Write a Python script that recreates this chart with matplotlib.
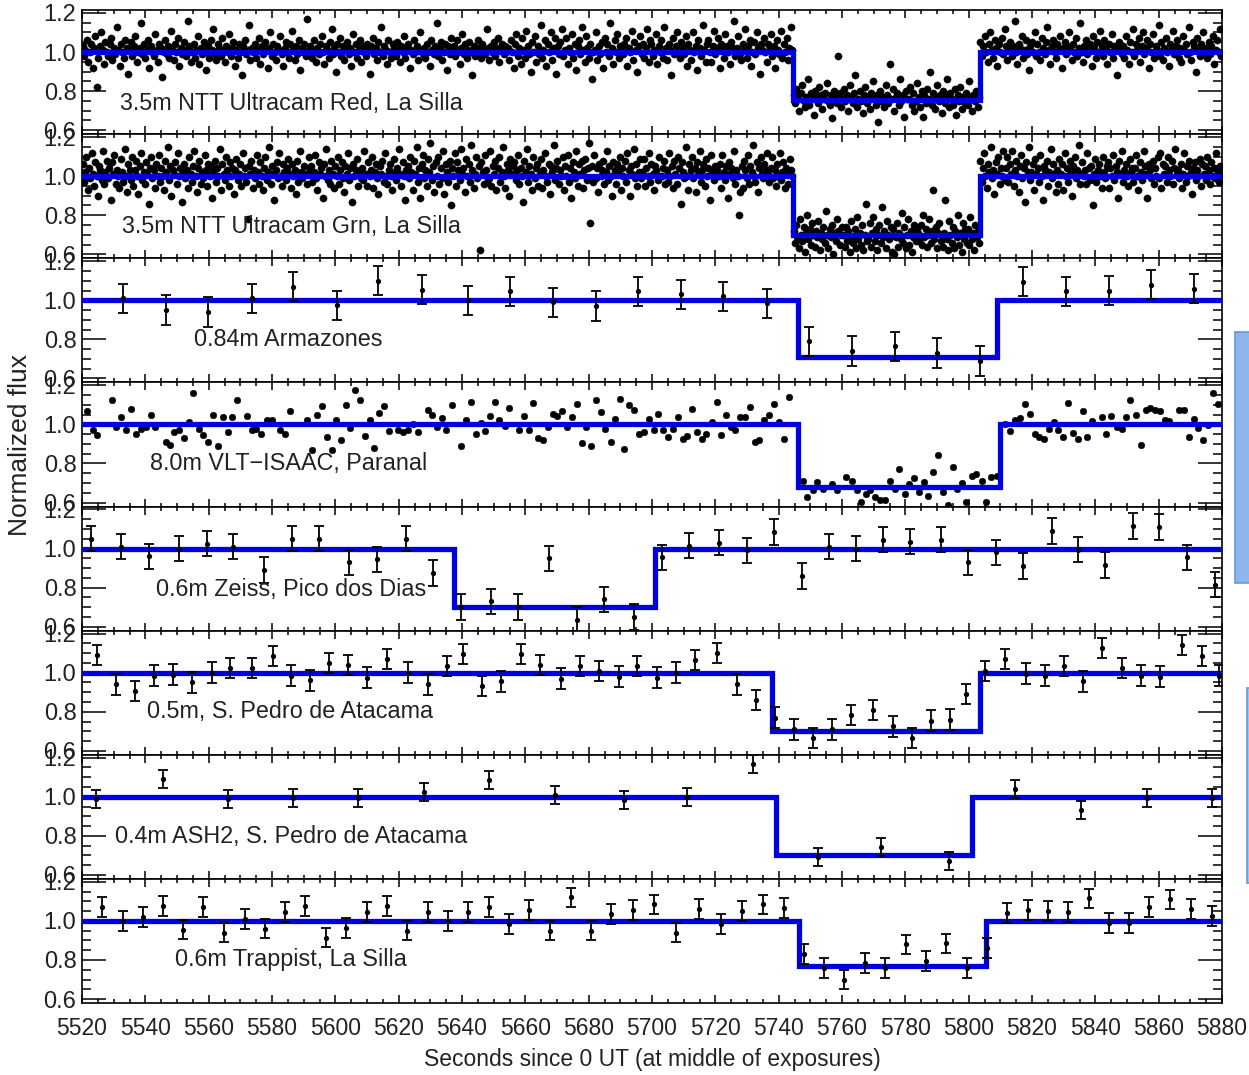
import numpy as np
import matplotlib.pyplot as plt
from matplotlib.ticker import MultipleLocator, FormatStrFormatter
from matplotlib.patches import Rectangle

plt.rcParams['font.family'] = ['Liberation Sans', 'DejaVu Sans']
plt.rcParams['font.size'] = 16.5

names = ['3.5m NTT Ultracam Red, La Silla', '3.5m NTT Ultracam Grn, La Silla',
         '0.84m Armazones', '8.0m VLT\u2212ISAAC, Paranal', '0.6m Zeiss, Pico dos Dias',
         '0.5m, S. Pedro de Atacama', '0.4m ASH2, S. Pedro de Atacama',
         '0.6m Trappist, La Silla']

# box-shaped occultation model: start, end, in-event flux
t_in = [5744.5, 5744.5, 5746.0, 5746.0, 5637.5, 5738.0, 5739.0, 5746.5]
t_out = [5803.5, 5803.5, 5809.0, 5810.0, 5701.0, 5803.5, 5801.0, 5805.5]
f_low = [0.755, 0.70, 0.71, 0.68, 0.70, 0.70, 0.70, 0.77]

# Ultracam light curves, flux in percent (before / during / after the event)
red_pre = [
    103, 98, 101, 106, 95, 100, 104, 92, 102, 108, 82, 97, 103, 110, 101, 94, 105, 100, 98, 104,
    107, 96, 102, 99, 113, 101, 93, 104, 100, 97, 106, 102, 89, 101, 105, 98, 103, 108, 95, 100,
    102, 115, 99, 104, 97, 101, 106, 92, 103, 100, 98, 109, 101, 95, 104, 102, 87, 100, 106, 99,
    103, 97, 111, 101, 96, 104, 100, 107, 93, 102, 99, 105, 101, 98, 116, 103, 95, 100, 104, 97,
    101, 108, 94, 102, 99, 105, 100, 91, 103, 97, 106, 101, 112, 99, 96, 104, 102, 98, 107, 100,
    95, 103, 100, 109, 98, 102, 105, 93, 101, 97, 104, 100, 88, 103, 106, 99, 101, 114, 96, 102,
    100, 104, 97, 101, 107, 94, 103, 99, 105, 101, 92, 102, 110, 98, 104, 100, 96, 103, 101, 108,
    99, 93, 102, 105, 100, 97, 104, 111, 101, 96, 103, 99, 106, 91, 102, 100, 104, 98, 117, 101,
    103, 97, 100, 106, 95, 102, 99, 104, 108, 100, 94, 103, 101, 97, 105, 112, 99, 102, 90, 104,
    100, 107, 98, 103, 96, 101, 105, 99, 102, 93, 109, 100, 104, 97, 101, 106, 95, 103, 100, 98,
    104, 101, 89, 103, 107, 99, 102, 96, 105, 100, 113, 98, 103, 101, 94, 106, 100, 97, 104, 102,
    98, 105, 101, 95, 103, 100, 108, 97, 102, 104, 92, 101, 99, 106, 100, 103, 96, 110, 101, 99,
    102, 97, 104, 100, 93, 106, 101, 99, 103, 115, 98, 102, 105, 96, 100, 104, 91, 103, 99, 107,
    101, 103, 98, 106, 100, 94, 102, 109, 99, 104, 97, 101, 105, 100, 88, 103, 98, 102, 106, 100,
    97, 104, 101, 99, 112, 102, 96, 103, 100, 105, 98, 102, 107, 95, 101, 104, 99, 103, 100, 102,
    96, 106, 100, 92, 104, 109, 98, 102, 94, 107, 101, 97, 111, 103, 99, 90, 105, 100, 108, 95,
    103, 99, 114, 97, 101, 106, 93, 104, 100, 110, 96, 102, 107, 89, 103, 99, 105, 112, 98, 101,
    107, 94, 102, 100, 109, 97, 104, 91, 103, 106, 99, 113, 101, 95, 108, 102, 97, 104, 86, 100,
    101, 110, 96, 103, 99, 105, 92, 107, 100, 104, 98, 115, 102, 94, 106, 100, 109, 97, 103, 101,
    99, 104, 107, 93, 102, 100, 111, 96, 105, 101, 90, 103, 108, 99, 104, 97, 102, 112, 95, 106,
    104, 98, 101, 109, 94, 103, 100, 106, 97, 113, 102, 96, 104, 101, 88, 107, 99, 103, 110, 100,
    97, 105, 102, 99, 108, 93, 104, 101, 96, 110, 100, 103, 91, 106, 102, 98, 114, 101, 95, 104,
    106, 100, 95, 103, 111, 99, 102, 107, 92, 104, 101, 97, 109, 103, 100, 94, 105, 102, 116, 98,
    102, 108, 99, 96, 104, 101, 112, 97, 103, 106, 93, 100, 105, 99, 110, 102, 89, 104, 101, 107,
    100, 95, 104, 102, 109, 98, 103, 92, 106, 101, 99, 111, 97, 104, 100, 107, 96, 102, 113, 101]
red_mid = [
    78, 74, 81, 76, 70, 79, 83, 75, 72, 77, 86, 73, 79, 76, 68, 80, 77, 74, 82, 78,
    71, 76, 79, 84, 75, 73, 78, 66, 80, 77, 74, 98, 79, 72, 76, 81, 75, 78, 70, 83,
    77, 74, 79, 88, 72, 76, 80, 75, 69, 78, 82, 74, 77, 71, 79, 85, 76, 73, 78, 64,
    80, 75, 77, 72, 83, 78, 74, 94, 76, 81, 70, 77, 79, 73, 86, 75, 78, 67, 80, 76,
    76, 82, 73, 79, 70, 75, 84, 77, 72, 80, 67, 78, 74, 81, 76, 90, 73, 79, 71, 77,
    83, 75, 78, 69, 80, 74, 77, 86, 72, 79, 76, 73, 81, 68, 78, 75, 82, 71, 77, 74,
    79, 73, 85, 76, 70, 78, 75, 80, 72, 77]
red_post = [
    105, 98, 103, 108, 100, 95, 104, 110, 101, 97, 106, 102, 93, 104, 100, 107, 99, 112, 103, 96,
    101, 105, 98, 103, 116, 100, 94, 104, 102, 108, 97, 101, 106, 99, 91, 103, 105, 100, 110, 98,
    104, 100, 96, 107, 102, 99, 105, 113, 101, 94, 103, 106, 100, 97, 104, 101, 108, 92, 102, 105,
    99, 103, 110, 101, 96, 104, 100, 107, 98, 102, 115, 100, 95, 103, 106, 99, 101, 104, 93, 108,
    102, 97, 105, 100, 111, 103, 98, 106, 101, 94, 104, 100, 109, 97, 103, 101, 88, 105, 102, 99,
    103, 97, 108, 101, 94, 105, 100, 112, 98, 104, 101, 107, 95, 103, 110, 99, 102, 106, 92, 104,
    100, 109, 97, 103, 101, 114, 98, 105, 96, 102, 107, 100, 93, 104, 101, 111, 99, 103, 106, 97,
    102, 95, 108, 101, 104, 99, 113, 100, 96, 105, 103, 90, 107, 101, 98, 104, 110, 100, 102, 97,
    105, 99, 103, 108, 94, 101, 106, 100, 112, 98]

grn_pre = [
    106, 97, 102, 110, 93, 104, 99, 112, 101, 95, 107, 100, 90, 105, 103, 98, 113, 96, 102, 108,
    99, 104, 88, 107, 101, 111, 96, 103, 100, 94, 109, 102, 97, 114, 100, 92, 106, 103, 98, 110,
    95, 103, 108, 100, 91, 105, 112, 98, 102, 96, 107, 101, 86, 104, 110, 99, 103, 94, 106, 100,
    111, 97, 104, 100, 93, 108, 102, 115, 98, 105, 90, 103, 101, 107, 96, 112, 100, 104, 87, 102,
    106, 99, 103, 94, 110, 101, 97, 105, 113, 100, 92, 104, 108, 96, 102, 99, 111, 103, 95, 106,
    100, 105, 89, 102, 108, 97, 104, 100, 114, 93, 106, 101, 98, 110, 103, 95, 107, 100, 104, 91,
    103, 109, 98, 101, 106, 95, 112, 100, 104, 97, 78, 105, 101, 108, 94, 103, 99, 111, 102, 96,
    107, 100, 93, 104, 110, 98, 102, 115, 96, 105, 101, 88, 103, 107, 99, 112, 100, 95, 106, 102,
    98, 104, 109, 101, 94, 106, 100, 103, 91, 108, 97, 113, 102, 99, 105, 101, 101, 96, 110, 103,
    105, 97, 102, 111, 99, 93, 107, 101, 104, 89, 106, 100, 114, 98, 103, 96, 108, 101, 94, 105,
    100, 110, 96, 103, 107, 99, 92, 105, 101, 112, 98, 104, 87, 106, 100, 103, 109, 95, 102, 99,
    104, 98, 113, 101, 95, 107, 100, 103, 110, 94, 102, 106, 99, 91, 105, 101, 108, 97, 112, 100,
    96, 103, 106, 100, 93, 109, 102, 98, 104, 114, 101, 95, 107, 100, 88, 103, 105, 99, 110, 102,
    93, 108, 101, 115, 97, 104, 89, 106, 111, 99, 103, 95, 109, 102, 117, 98, 105, 92, 107, 100,
    110, 96, 104, 99, 113, 91, 106, 102, 97, 108, 85, 104, 100, 112, 95, 107, 103, 98, 114, 101,
    104, 92, 109, 100, 106, 97, 116, 103, 94, 101, 110, 99, 105, 62, 107, 102, 96, 111, 103, 98,
    99, 113, 95, 105, 101, 108, 93, 104, 110, 97, 102, 115, 100, 94, 106, 103, 90, 109, 101, 105,
    107, 98, 103, 111, 96, 104, 100, 87, 108, 102, 114, 97, 105, 101, 93, 110, 99, 104, 106, 95,
    101, 109, 94, 103, 112, 100, 97, 106, 91, 105, 102, 116, 98, 104, 108, 96, 103, 100, 110, 93,
    105, 100, 111, 97, 104, 89, 107, 102, 99, 113, 95, 106, 101, 108, 94, 103, 109, 98, 104, 117,
    76, 105, 97, 111, 99, 104, 92, 106, 100, 103, 108, 96, 102, 113, 98, 105, 100, 90, 107, 103,
    96, 106, 102, 110, 93, 104, 100, 108, 97, 112, 103, 90, 105, 101, 114, 99, 106, 95, 102, 109,
    99, 102, 109, 95, 104, 100, 112, 97, 106, 101, 93, 105, 103, 98, 110, 100, 100, 104, 108, 96,
    103, 97, 112, 100, 105, 94, 108, 101, 96, 110, 104, 86, 107, 102, 99, 115, 100, 93, 106, 103,
    110, 99, 104, 92, 107, 101, 113, 97, 103, 106, 95, 109, 100, 104, 88, 111, 102, 98, 105, 100,
    103, 100, 106, 94, 111, 102, 98, 105, 89, 107, 101, 104, 99, 113, 96, 103, 100, 80, 92, 105,
    94, 108, 103, 99, 111, 96, 105, 102, 116, 100, 97, 107, 92, 104, 110, 101, 99, 106, 103, 112,
    101, 97, 104, 110, 99, 103, 95, 106, 100, 112, 98, 102, 107, 94, 104, 101, 96, 109, 103, 100]
grn_mid = [
    72, 66, 75, 69, 63, 78, 70, 67, 74, 61, 71, 80, 68, 73, 65, 76, 70, 64, 72, 69,
    77, 62, 71, 68, 74, 66, 82, 70, 63, 73, 69, 75, 60, 71, 67, 78, 72, 65, 70, 74,
    70, 64, 74, 67, 72, 61, 77, 69, 66, 73, 63, 79, 68, 71, 65, 75, 62, 70, 86, 67,
    68, 76, 64, 71, 79, 67, 73, 62, 70, 75, 66, 84, 69, 72, 63, 77, 70, 68, 74, 61,
    73, 60, 69, 76, 64, 71, 68, 81, 66, 74, 63, 70, 78, 65, 72, 61, 69, 75, 67, 73,
    71, 67, 75, 65, 80, 69, 73, 64, 70, 78, 66, 72, 93, 68, 74, 63, 71, 76, 67, 70,
    64, 71, 88, 68, 62, 77, 70, 66, 74, 63, 72, 69, 80, 65, 71, 61, 76, 68, 73, 66,
    73, 65, 79, 68, 71, 62, 75, 69, 72, 66]
grn_post = [
    108, 97, 104, 112, 100, 94, 106, 102, 115, 99, 103, 91, 107, 101, 110, 96, 104, 100, 113, 98,
    104, 110, 97, 106, 101, 113, 95, 103, 108, 100, 92, 105, 111, 99, 104, 87, 107, 102, 115, 98,
    102, 106, 93, 109, 101, 104, 97, 111, 100, 88, 105, 103, 108, 95, 102, 114, 99, 106, 101, 92,
    103, 96, 109, 101, 106, 93, 112, 100, 104, 97, 108, 102, 90, 105, 110, 99, 103, 116, 96, 101,
    107, 100, 103, 96, 112, 104, 98, 105, 85, 101, 109, 97, 103, 106, 100, 94, 110, 102, 99, 105,
    107, 94, 104, 100, 111, 98, 105, 102, 89, 108, 101, 113, 97, 103, 106, 100, 95, 109, 102, 104,
    97, 104, 111, 100, 93, 107, 102, 98, 113, 105, 101, 89, 106, 103, 99, 108, 96, 104, 100, 110,
    99, 112, 94, 106, 101, 105, 97, 110, 103, 100, 108, 96, 104, 114, 101,
    103, 99, 106, 94, 101, 112, 97, 105, 100, 108, 102, 91, 104, 107, 98, 103, 100, 109, 95, 106,
    101, 105, 98, 110, 103, 96, 107, 100, 104, 99, 112, 102, 97, 105, 101]

# 0.84m Armazones
arm_t = [5532.9, 5546.5, 5559.8, 5573.7, 5586.6, 5600.5, 5613.5, 5627.3, 5641.9, 5655.2,
         5668.7, 5682.3, 5695.6, 5709.2, 5722.4, 5736.3, 5749.6, 5763.1, 5776.8, 5790.0,
         5803.6, 5817.1, 5830.6, 5844.3, 5857.6, 5871.2]
arm_f = [1.01, 0.95, 0.94, 1.01, 1.07, 0.975, 1.10, 1.055, 1.0, 1.045,
         0.99, 0.97, 1.045, 1.03, 1.02, 0.985, 0.79, 0.74, 0.765, 0.73,
         0.69, 1.095, 1.045, 1.05, 1.08, 1.06]
arm_err = 0.075

# 8.0m VLT-ISAAC
vlt_t = [5521.7, 5523.4, 5524.8, 5529.4, 5530.7, 5532.3, 5533.9, 5535.5, 5537.1, 5538.5,
         5540.1, 5541.7, 5543.1, 5546.4, 5547.8, 5549.2, 5550.7, 5552.3, 5553.9, 5555.2,
         5556.9, 5558.3, 5559.9, 5561.5, 5563.0, 5564.4, 5566.1, 5567.5, 5569.0, 5572.0,
         5573.6, 5574.9, 5576.6, 5578.3, 5579.9, 5582.5, 5584.1, 5585.7, 5591.2, 5592.6,
         5594.1, 5595.7, 5597.3, 5598.9, 5600.2, 5601.7, 5603.3, 5604.6, 5606.2, 5607.8,
         5609.4, 5610.9, 5612.3, 5613.8, 5615.4, 5617.0, 5619.9, 5621.5, 5623.0, 5624.6,
         5626.2, 5629.3, 5630.6, 5632.2, 5633.6, 5635.1, 5636.7, 5639.7, 5641.2, 5642.7,
         5644.4, 5645.9, 5647.3, 5648.8, 5650.4, 5651.8, 5653.6, 5654.9, 5658.0, 5659.6,
         5661.0, 5662.5, 5664.1, 5665.7, 5667.2, 5668.6, 5670.1, 5671.7, 5673.2, 5674.7,
         5676.2, 5677.8, 5679.3, 5680.7, 5682.3, 5683.8, 5685.3, 5686.9, 5688.3, 5689.9,
         5691.3, 5692.8, 5694.4, 5695.9, 5697.4, 5698.9, 5700.6, 5702.0, 5703.6, 5705.1,
         5706.7, 5708.3, 5709.7, 5711.1, 5712.7, 5714.3, 5715.7, 5717.2, 5718.8, 5720.4,
         5721.8, 5723.4, 5724.8, 5726.3, 5727.8, 5729.3, 5730.9, 5732.5, 5733.9, 5735.4,
         5737.0, 5738.6, 5740.1, 5741.7, 5743.2,
         5747.8, 5749.0, 5750.9, 5752.2, 5753.9, 5756.7, 5758.3, 5761.4, 5763.0, 5764.6,
         5765.9, 5767.5, 5768.8, 5770.4, 5772.0, 5773.5, 5775.1, 5776.7, 5778.1, 5779.9,
         5781.2, 5782.8, 5784.4, 5785.9, 5787.3, 5788.8, 5790.4, 5792.0, 5793.5, 5794.9,
         5796.4, 5798.0, 5799.3, 5800.9, 5802.3, 5804.1, 5805.6, 5807.2, 5808.8,
         5811.4, 5813.0, 5814.6, 5816.2, 5817.8, 5819.3, 5820.9, 5822.3, 5823.7, 5825.4,
         5826.9, 5828.3, 5829.9, 5831.4, 5833.0, 5834.6, 5836.0, 5837.4, 5839.0, 5842.0,
         5843.5, 5845.1, 5846.7, 5848.3, 5849.6, 5851.1, 5852.8, 5854.3, 5855.9, 5857.2,
         5858.8, 5860.4, 5862.0, 5863.3, 5866.4, 5868.0, 5869.5, 5871.1, 5872.5, 5874.1,
         5875.7, 5877.2, 5878.8]
vlt_f = [1.068, 0.969, 0.944, 1.126, 0.986, 1.038, 0.969, 1.079, 0.952, 0.978,
         0.986, 1.046, 0.986, 0.909, 0.897, 0.961, 0.973, 0.930, 1.012, 1.161,
         0.978, 0.944, 0.909, 1.046, 0.887, 1.038, 0.961, 1.038, 1.126, 1.043,
         0.969, 0.978, 0.952, 1.021, 1.024, 0.969, 0.952, 1.067, 1.024, 0.870,
         1.046, 1.094, 0.938, 0.870, 1.024, 0.921, 1.097, 0.981, 1.174, 1.126,
         0.940, 1.024, 0.880, 1.058, 1.094, 0.966, 0.969, 0.961, 0.969, 1.003,
         0.961, 1.072, 1.046, 0.986, 1.032, 0.969, 1.097, 0.889, 1.021, 1.115,
         0.952, 1.009, 0.966, 1.041, 1.115, 1.024, 0.991, 1.085, 0.973, 1.041,
         0.973, 1.109, 0.932, 0.918, 0.986, 1.051, 1.041, 1.068, 0.986, 1.038,
         1.106, 0.904, 0.986, 0.887, 1.126, 1.063, 0.978, 0.909, 1.029, 1.128,
         0.875, 1.097, 1.075, 0.952, 0.961, 1.029, 0.969, 1.055, 0.969, 0.938,
         0.978, 1.038, 0.926, 0.940, 1.080, 0.961, 0.926, 0.952, 1.012, 1.115,
         0.944, 1.046, 0.986, 0.973, 1.038, 1.038, 1.089, 0.909, 0.921, 1.021,
         1.046, 1.103, 1.012, 0.926, 1.140,
         0.713, 0.627, 0.662, 0.704, 0.670, 0.696, 0.662, 0.733, 0.709, 0.662,
         0.602, 0.644, 0.665, 0.631, 0.614, 0.614, 0.713, 0.670, 0.773, 0.644,
         0.696, 0.725, 0.653, 0.704, 0.636, 0.756, 0.841, 0.653, 0.590, 0.781,
         0.670, 0.699, 0.602, 0.735, 0.744, 0.713, 0.602, 0.733, 0.738,
         1.003, 0.964, 1.021, 1.034, 1.106, 1.055, 0.952, 0.938, 0.926, 0.978,
         1.012, 0.969, 0.935, 1.109, 0.956, 0.926, 1.068, 0.938, 1.017, 1.038,
         0.949, 1.043, 0.986, 0.978, 1.038, 1.126, 1.046, 0.896, 1.075, 1.085,
         1.072, 1.067, 1.021, 1.017, 1.075, 1.075, 0.938, 1.029, 0.983, 0.918,
         0.995, 1.161, 1.103]

# 0.6m Zeiss, Pico dos Dias
zei_t = [5522.7, 5532.2, 5541.2, 5550.6, 5559.4, 5567.7, 5577.5, 5586.2, 5594.8, 5604.3,
         5613.1, 5622.3, 5630.9, 5639.7, 5649.2, 5657.8, 5667.6, 5676.2, 5684.8, 5694.4,
         5703.1, 5711.8, 5721.2, 5729.9, 5738.6, 5747.3, 5756.0, 5764.4, 5773.1, 5781.5,
         5791.2, 5799.9, 5808.5, 5817.3, 5826.2, 5834.6, 5843.1, 5851.8, 5860.2, 5869.0,
         5877.8]
zei_f = [1.05, 1.01, 0.96, 1.0, 1.025, 1.01, 0.89, 1.05, 1.05, 0.93,
         0.945, 1.05, 0.875, 0.70, 0.73, 0.70, 0.95, 0.635, 0.74, 0.65,
         0.955, 1.015, 1.03, 0.99, 1.085, 0.86, 1.01, 1.0, 1.045, 1.035,
         1.045, 0.93, 0.98, 0.91, 1.09, 0.995, 0.915, 1.115, 1.11, 0.955,
         0.815]
zei_err = 0.065

# 0.5m S. Pedro de Atacama
spa_t = [5524.6, 5530.6, 5536.7, 5542.7, 5548.8, 5554.8, 5561.0, 5566.7, 5573.8, 5580.2,
         5586.0, 5592.0, 5598.1, 5604.1, 5610.1, 5616.2, 5623.0, 5629.2, 5635.2, 5640.4,
         5646.2, 5652.3, 5658.5, 5664.6, 5671.3, 5677.3, 5683.4, 5689.6, 5695.4, 5701.5,
         5707.6, 5713.6, 5720.6, 5726.8, 5732.7, 5738.8, 5744.8, 5750.9, 5756.7, 5762.8,
         5769.9, 5776.0, 5782.0, 5788.0, 5794.1, 5799.2, 5805.2, 5811.5, 5818.1, 5824.1,
         5830.2, 5836.2, 5842.2, 5848.3, 5854.3, 5860.4, 5867.5, 5873.6, 5879.2]
spa_f = [1.09, 0.94, 0.905, 0.985, 0.99, 0.95, 1.0, 1.025, 1.025, 1.085,
         0.985, 0.96, 1.05, 1.04, 0.975, 1.07, 1.0, 0.94, 1.035, 1.095,
         0.93, 0.955, 1.095, 1.04, 0.97, 1.035, 1.01, 0.98, 1.035, 0.975,
         1.0, 1.065, 1.10, 0.94, 0.86, 0.77, 0.71, 0.665, 0.71, 0.785,
         0.81, 0.725, 0.665, 0.755, 0.76, 0.89, 1.01, 1.07, 0.995, 0.985,
         1.035, 0.955, 1.125, 1.025, 0.985, 0.98, 1.14, 1.085, 0.985]
spa_err = 0.052

# 0.4m ASH2, S. Pedro de Atacama
ash_t = [5524.3, 5545.7, 5566.0, 5586.5, 5607.1, 5628.0, 5648.6, 5669.4, 5691.2, 5711.0,
         5731.8, 5752.3, 5772.2, 5793.8, 5814.6, 5835.4, 5856.2, 5876.9]
ash_f = [0.99, 1.09, 0.99, 0.995, 0.995, 1.025, 1.085, 1.01, 0.985, 1.0,
         1.17, 0.69, 0.745, 0.67, 1.04, 0.93, 0.995, 0.995]
ash_err = 0.046

# 0.6m Trappist, La Silla
tra_t = [5526.2, 5532.9, 5539.2, 5545.5, 5551.8, 5558.3, 5564.8, 5571.5, 5577.8, 5584.1,
         5590.4, 5597.1, 5603.4, 5609.9, 5616.2, 5622.7, 5629.4, 5635.7, 5642.0, 5648.5,
         5654.8, 5661.3, 5667.8, 5674.3, 5680.6, 5687.0, 5694.1, 5700.7, 5707.6, 5714.8,
         5721.7, 5728.3, 5735.2, 5741.7, 5748.0, 5754.3, 5760.7, 5767.3, 5773.6, 5780.2,
         5786.4, 5792.8, 5799.4, 5805.9, 5812.2, 5818.6, 5825.0, 5831.5, 5838.0, 5844.3,
         5850.6, 5857.0, 5863.6, 5870.1, 5876.8]
tra_f = [1.07, 1.0, 1.02, 1.075, 0.955, 1.07, 0.94, 1.01, 0.96, 1.045,
         1.075, 0.915, 0.965, 1.045, 1.075, 0.95, 1.045, 1.0, 1.045, 1.07,
         0.985, 1.055, 0.95, 1.12, 0.95, 1.035, 1.055, 1.085, 0.94, 1.06,
         0.985, 1.05, 1.085, 1.065, 0.83, 0.76, 0.70, 0.785, 0.76, 0.88,
         0.795, 0.885, 0.76, 0.86, 1.04, 1.055, 1.05, 1.045, 1.115, 0.99,
         0.99, 1.07, 1.11, 1.06, 1.025]
tra_err = 0.05

T_START, T_END = 5520, 5880
MODEL_BLUE = '#0000e0'
INK = '#222222'


def segment(flux_pct, t0, t1):
    # evenly spaced exposures spanning t0..t1
    return np.linspace(t0, t1, len(flux_pct)), np.array(flux_pct) / 100.0


fig = plt.figure(figsize=(12.49, 10.75), dpi=100)
gs = fig.add_gridspec(8, 1, left=82 / 1249, right=1222 / 1249,
                      top=1 - 10 / 1075, bottom=1 - 1003 / 1075, hspace=0)
axes = [fig.add_subplot(gs[i]) for i in range(8)]

# dense Ultracam panels
for ax, pre, mid, post, k in [(axes[0], red_pre, red_mid, red_post, 0),
                              (axes[1], grn_pre, grn_mid, grn_post, 1)]:
    for vals, a, b in [(pre, T_START + 0.2, t_in[k] - 0.2),
                       (mid, t_in[k] + 0.2, t_out[k] - 0.2),
                       (post, t_out[k] + 0.2, T_END - 0.2)]:
        t, f = segment(vals, a, b)
        ax.plot(t, f, 'o', color='black', ms=5.2, mec='black', mew=0.3, zorder=2)

axes[3].plot(vlt_t, vlt_f, 'o', color='black', ms=4.8, mec='black', mew=0.3, zorder=2)

for ax, t, f, e in [(axes[2], arm_t, arm_f, arm_err), (axes[4], zei_t, zei_f, zei_err),
                    (axes[5], spa_t, spa_f, spa_err), (axes[6], ash_t, ash_f, ash_err),
                    (axes[7], tra_t, tra_f, tra_err)]:
    ax.errorbar(t, f, yerr=e, fmt='o', color='black', ms=3.8, mec='none',
                elinewidth=1.3, capsize=3.8, capthick=1.3, zorder=4)

label_xy = [(5532.0, 0.737), (5532.6, 0.74), (5555.5, 0.80), (5541.5, 0.80),
            (5543.5, 0.79), (5540.5, 0.80), (5530.5, 0.795), (5549.5, 0.80)]

for i, ax in enumerate(axes):
    mx = [T_START, t_in[i], t_in[i], t_out[i], t_out[i], T_END]
    my = [1.0, 1.0, f_low[i], f_low[i], 1.0, 1.0]
    ax.plot(mx, my, color=MODEL_BLUE, lw=3.8, solid_joinstyle='miter', zorder=3)
    ax.text(label_xy[i][0], label_xy[i][1], names[i], ha='left', va='center',
            color=INK, fontsize=16.8, zorder=5)

    ax.set_xlim(T_START, T_END)
    ax.set_ylim(0.58, 1.215)
    ax.xaxis.set_major_locator(MultipleLocator(20))
    ax.xaxis.set_minor_locator(MultipleLocator(5))
    ax.yaxis.set_major_locator(MultipleLocator(0.2))
    ax.yaxis.set_minor_locator(MultipleLocator(0.05))
    ax.yaxis.set_major_formatter(FormatStrFormatter('%.1f'))
    ax.tick_params(axis='both', which='both', direction='in', top=True, right=True,
                   width=1.1, colors='black', labelcolor=INK)
    ax.tick_params(axis='y', which='major', length=17, pad=4, labelsize=17)
    ax.tick_params(axis='y', which='minor', length=6.5)
    ax.tick_params(axis='x', which='major', length=6, pad=10, labelsize=16.5)
    ax.tick_params(axis='x', which='minor', length=2.8)
    for s in ax.spines.values():
        s.set_linewidth(1.2)
    if i < 7:
        ax.tick_params(axis='x', labelbottom=False)

axes[7].set_xlabel('Seconds since 0 UT (at middle of exposures)', color=INK,
                   fontsize=16.5, labelpad=6)
fig.text(20 / 1249, 1 - 445 / 1075, 'Normalized flux', rotation=90, ha='center', va='center',
         fontsize=19, color=INK)

# slide boxes peeking in at the right edge
fig.patches.append(Rectangle((1235 / 1249, 1 - 583 / 1075), 16 / 1249, 251 / 1075,
                             transform=fig.transFigure, fc='#8db7ec', ec='#6a98d4', lw=1.2))
fig.patches.append(Rectangle((1246.5 / 1249, 1 - 883 / 1075), 4 / 1249, 195 / 1075,
                             transform=fig.transFigure, fc='#9fc3f0', ec='#6a98d4', lw=1.2))

fig.savefig('out.png', dpi=100)
